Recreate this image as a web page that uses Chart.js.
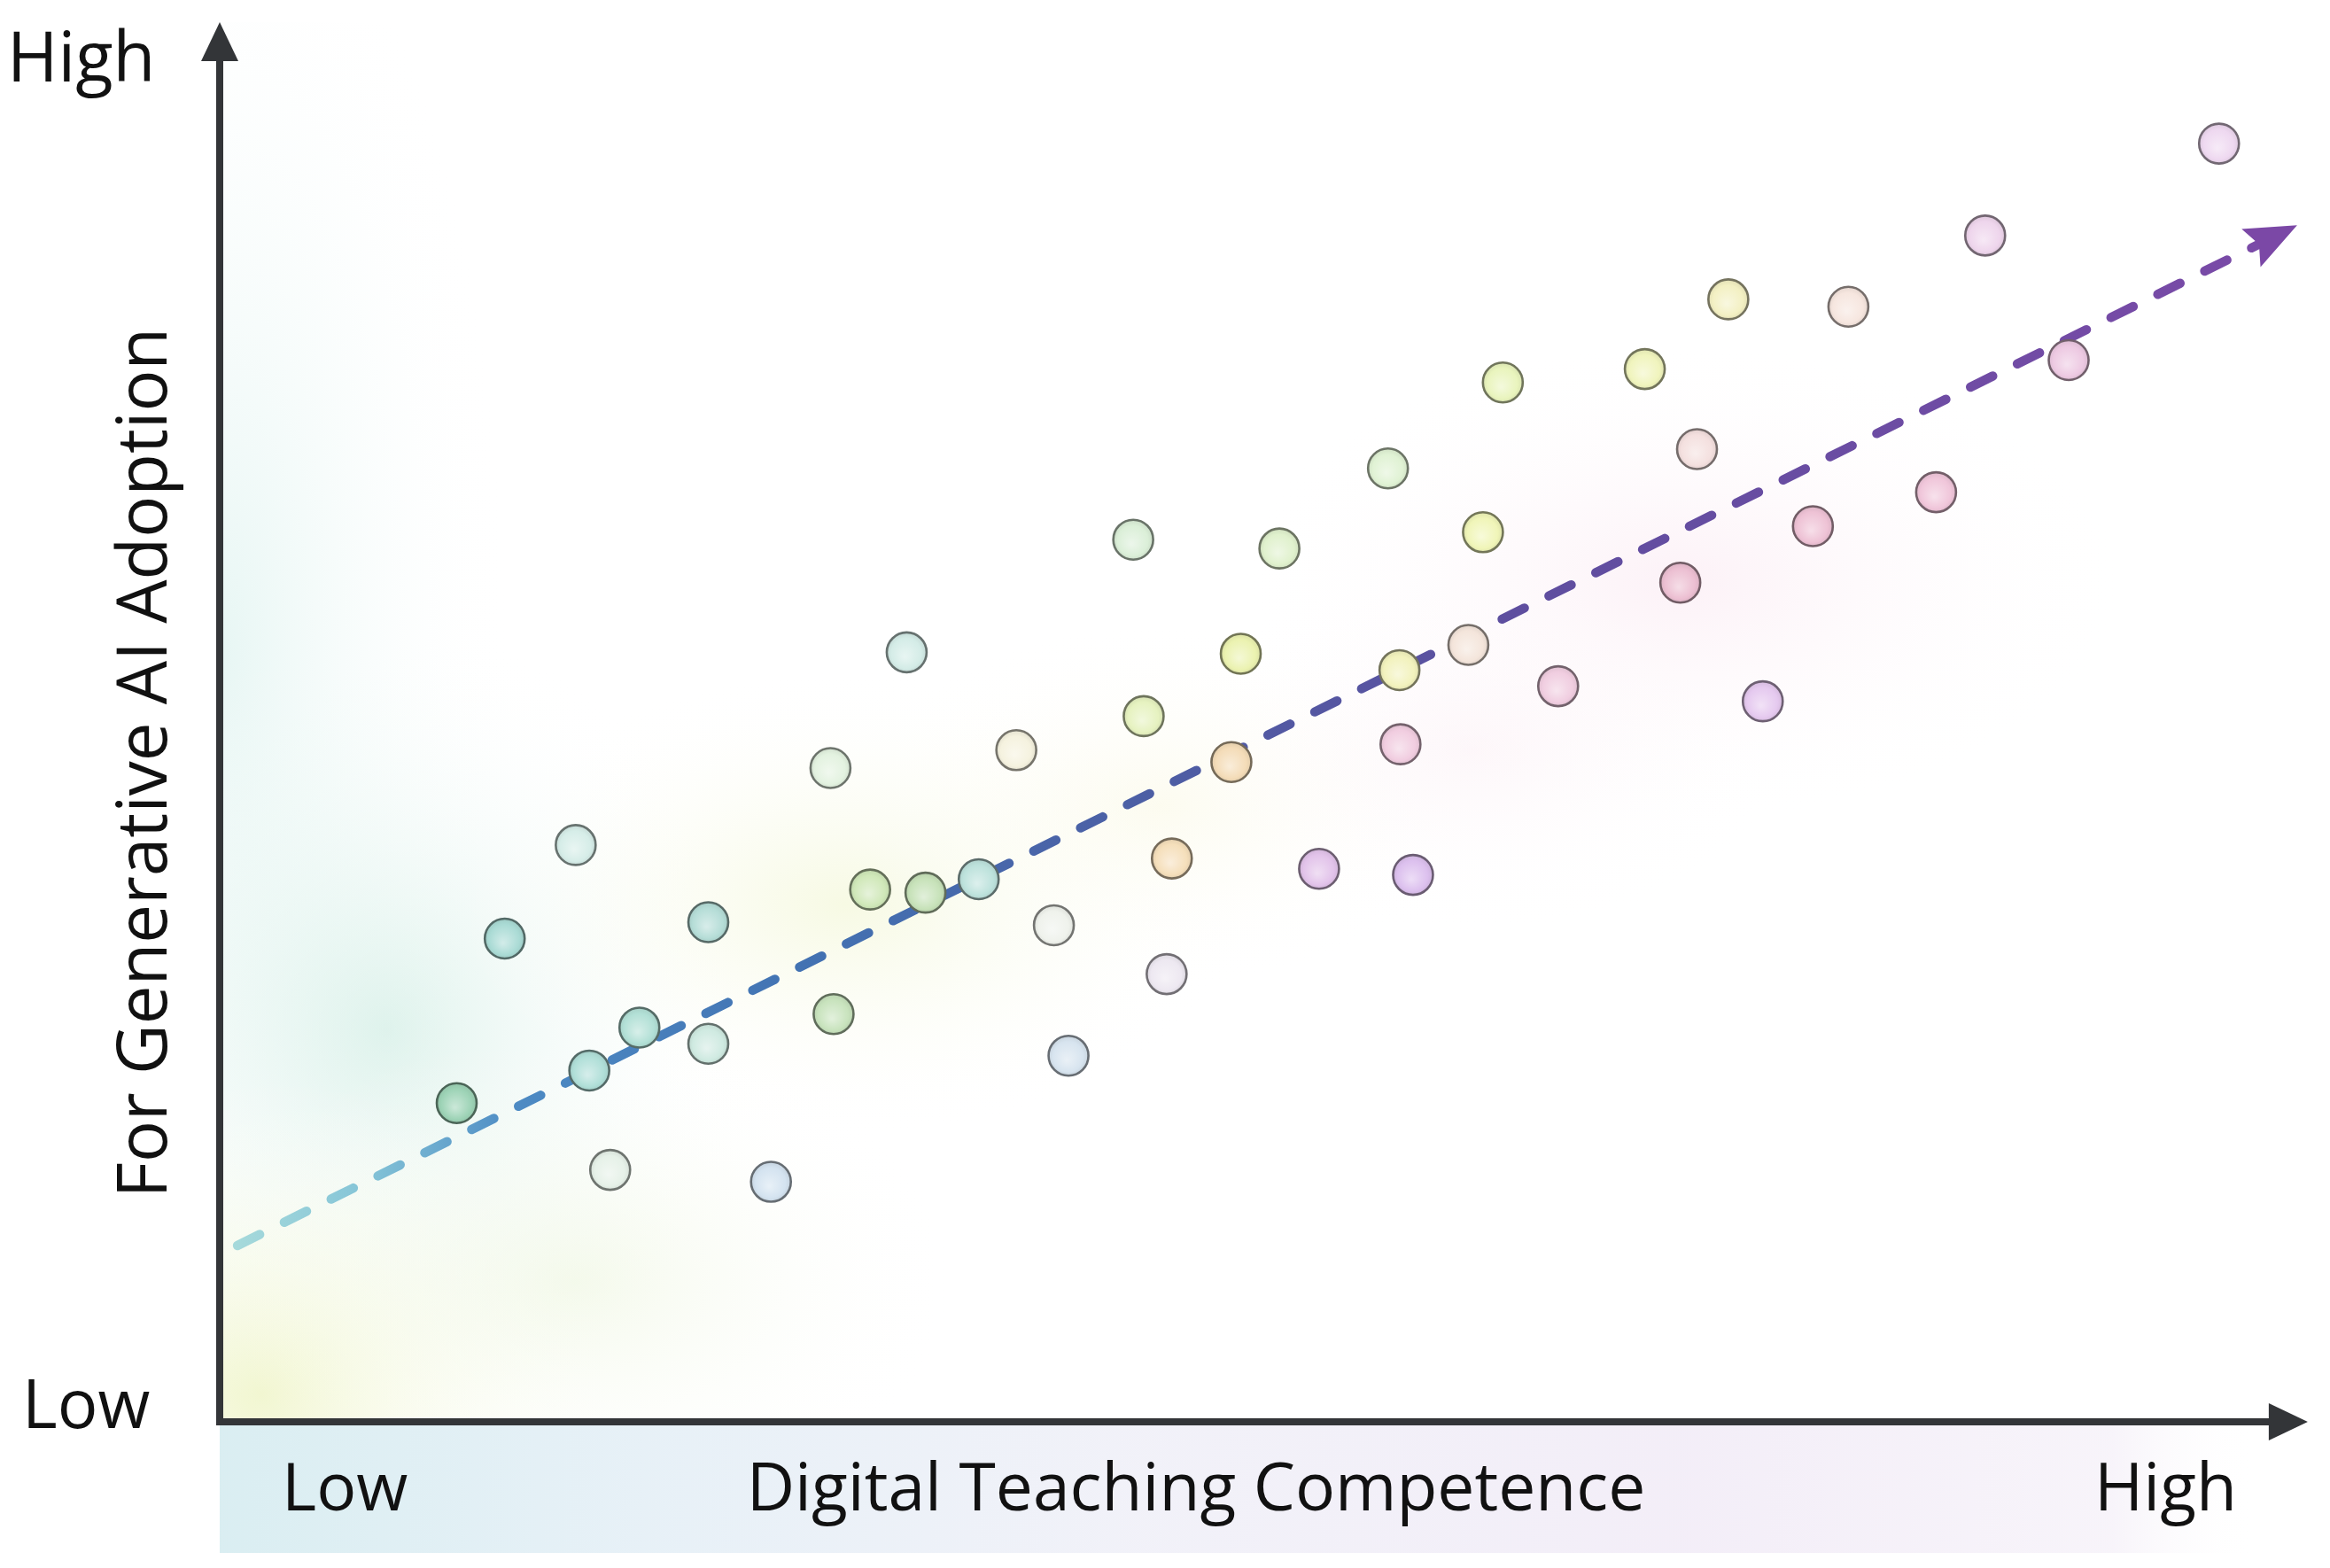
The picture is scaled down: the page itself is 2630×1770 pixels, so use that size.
<!DOCTYPE html>
<html><head><meta charset="utf-8">
<script src="https://cdn.jsdelivr.net/npm/chart.js@4/dist/chart.umd.min.js"></script>
<style>html,body{margin:0;padding:0;background:#fff;overflow:hidden}#wrap{width:2630px;height:1770px;position:relative}</style>
</head><body><div id="wrap"><canvas id="c" width="2630" height="1770"></canvas></div>
<script>
// ---- data (0-100 relative scale, no numeric ticks in the original) ----
const competence = [11.35,13.65,17.05,17.70,18.70,20.10,23.40,23.40,26.40,29.25,29.40,31.15,32.90,33.80,36.35,38.15,39.95,40.65,43.75,44.25,45.35,45.60,48.45,48.90,50.75,52.65,55.95,56.50,56.55,57.15,59.80,60.50,61.45,64.10,68.25,69.95,70.75,72.25,73.90,76.30,78.00,82.20,84.55,88.55,95.75];
const adoption   = [22.77,34.53,41.21,25.10,18.00,28.17,35.70,27.01,17.15,46.71,29.13,38.03,54.98,37.81,38.77,47.99,35.48,26.16,63.03,50.42,31.99,40.25,47.14,54.88,62.40,39.51,68.12,53.71,48.41,39.08,55.51,63.56,74.26,52.56,75.22,59.96,69.50,80.20,51.48,63.99,79.67,66.42,84.76,75.86,91.33];
const trendX = [0.85, 99.49];
const trendY = [12.60, 85.49];
const xTickLabels = ['Low', 'High'];
const yTickLabels = ['Low', 'High'];
const xTitle = 'Digital Teaching Competence';
const yTitle = 'For Generative AI Adoption';

// ---- styles ----
const pointFills = ['#9dd3b6','#aadbd5','#d6ede8','#b0dfd8','#e6f1e8','#b2e0d6','#b5ddd7','#cfeae1','#d4e3f0','#e3f2e0','#c8e3bd','#d0e8b9','#d4ece7','#c7e2b9','#bde2dc','#f5f2df','#eff2ec','#d7e4ef','#dbefd8','#e6f2c0','#ede8f1','#f5dfbb','#f4dcb8','#ebf2b0','#e0f1cd','#e2c3ea','#e0f2d4','#f2f2bd','#f1cde0','#dcc0ee','#f4e5db','#f0f5b8','#e9f4bd','#f0cde0','#f0f4bd','#ecbfd2','#f4e0df','#f3f0c3','#e5c9ef','#eec2d5','#f6e6df','#f0c6da','#eed5ec','#edc9e2','#eed8f0'];
function rgbOf(hex){const n=parseInt(hex.slice(1),16);return [(n>>16)&255,(n>>8)&255,n&255];}
function darken(hex, f){const [r,g,b]=rgbOf(hex);return `rgb(${Math.round(r*f)},${Math.round(g*f)},${Math.round(b*f)})`;}
function lighten(hex, f){const [r,g,b]=rgbOf(hex);return `rgb(${Math.round(r+(255-r)*f)},${Math.round(g+(255-g)*f)},${Math.round(b+(255-b)*f)})`;}
const pointBorders = pointFills.map(c => darken(c, 0.48));
const FONT = '"Open Sans", "Noto Sans", sans-serif';
const R_PT = 22.5;

const bgPlugin = {
  id: 'bg',
  beforeDraw(chart) {
    const c = chart.ctx, a = chart.chartArea, W = chart.width, H = chart.height;
    const L = a.left, R = a.right, T = a.top, B = a.bottom, w = R - L, h = B - T;
    c.save();
    c.fillStyle = '#ffffff'; c.fillRect(0, 0, W, H);
    const glow = (fx, fy, r, col, sy, sx) => {
      const x = L + fx * w, y = T + fy * h;
      c.save(); c.translate(x, y); c.scale(sx || 1, sy || 1);
      const g = c.createRadialGradient(0, 0, 0, 0, 0, r);
      g.addColorStop(0, col); g.addColorStop(1, 'rgba(255,255,255,0)');
      c.fillStyle = g; c.beginPath(); c.arc(0, 0, r, 0, Math.PI * 2); c.fill(); c.restore();
    };
    c.save(); c.beginPath(); c.rect(L, T, w, h); c.clip();
    glow(0.0, 0.45, 330, 'rgba(215,240,236,0.6)', 2.8, 1);
    glow(0.08, 0.72, 420, 'rgba(185,228,214,0.45)', 1.1, 1);
    glow(0.02, 0.98, 400, 'rgba(238,244,196,0.8)', 0.9, 1);
    glow(0.17, 0.90, 360, 'rgba(232,243,212,0.45)', 0.8, 1.2);
    glow(0.30, 0.63, 380, 'rgba(240,245,205,0.55)', 0.7, 1.2);
    glow(0.45, 0.56, 300, 'rgba(250,248,225,0.5)', 0.7, 1.2);
    glow(0.70, 0.40, 420, 'rgba(249,225,237,0.45)', 0.65, 1.2);
    glow(0.60, 0.52, 300, 'rgba(250,232,240,0.35)', 0.7, 1.2);
    c.restore();
    // band below x axis
    const bandTop = B + 4, bandBot = B + 148;
    const g2 = c.createLinearGradient(L, 0, L + w * 0.975, 0);
    g2.addColorStop(0, 'rgba(216,237,241,0.95)');
    g2.addColorStop(0.2, 'rgba(228,239,246,0.9)');
    g2.addColorStop(0.45, 'rgba(240,240,248,0.9)');
    g2.addColorStop(0.72, 'rgba(242,236,247,0.9)');
    g2.addColorStop(0.93, 'rgba(246,242,249,0.85)');
    g2.addColorStop(1, 'rgba(255,255,255,0)');
    c.fillStyle = g2; c.fillRect(L, bandTop, w * 0.975, bandBot - bandTop);
    c.restore();
  },
  beforeDatasetsDraw(chart) {
    const c = chart.ctx, a = chart.chartArea;
    const L = a.left, R = a.right, T = a.top, B = a.bottom;
    c.save();
    c.strokeStyle = '#333538'; c.fillStyle = '#333538'; c.lineWidth = 8; c.lineCap = 'butt';
    c.beginPath(); c.moveTo(L, B); c.lineTo(L, T + 40); c.stroke();
    c.beginPath(); c.moveTo(L - 4, B); c.lineTo(R - 40, B); c.stroke();
    c.beginPath(); c.moveTo(L, T); c.lineTo(L - 21, T + 44); c.lineTo(L + 21, T + 44); c.closePath(); c.fill();
    c.beginPath(); c.moveTo(R, B); c.lineTo(R - 44, B - 21); c.lineTo(R - 44, B + 21); c.closePath(); c.fill();
    // texts
    c.fillStyle = '#111111'; c.textBaseline = 'alphabetic';
    c.font = '400 78px ' + FONT; c.textAlign = 'left';
    c.fillText(yTickLabels[1], 8, T + 67);
    c.font = '400 76px ' + FONT;
    c.fillText(yTickLabels[0], 25, B + 7);
    c.font = '400 75px ' + FONT;
    c.fillText(xTickLabels[0], L + 70, B + 100);
    c.fillText(xTickLabels[1], L + 2116, B + 100);
    c.textAlign = 'center';
    c.fillText(xTitle, L + 1102, B + 100);
    c.save(); c.translate(188, T + 836); c.rotate(-Math.PI / 2);
    c.font = '400 78px ' + FONT; c.fillText(yTitle, 0, 0); c.restore();
    c.restore();
  },
  afterDatasetsDraw(chart) {
    const meta = chart.getDatasetMeta(1);
    const pts = meta.data; if (pts.length < 2) return;
    const p0 = pts[pts.length - 2], p1 = pts[pts.length - 1];
    const ang = Math.atan2(p1.y - p0.y, p1.x - p0.x);
    const c = chart.ctx; c.save(); c.translate(p1.x, p1.y); c.rotate(ang);
    c.fillStyle = '#7b48a6';
    c.beginPath(); c.moveTo(0, 0); c.lineTo(-58, -24); c.lineTo(-48, 0); c.lineTo(-58, 24); c.closePath(); c.fill();
    c.restore();
  }
};

function pointFill(ctx) {
  const i = ctx.dataIndex, base = pointFills[i];
  const ch = ctx.chart;
  if (ctx.type !== 'data' || !ch.scales || !ch.scales.x) return base;
  const x = ch.scales.x.getPixelForValue(competence[i]);
  const y = ch.scales.y.getPixelForValue(adoption[i]);
  if (!isFinite(x) || !isFinite(y)) return base;
  const g = ch.ctx.createRadialGradient(x - 2, y + 5, 1, x, y, R_PT);
  g.addColorStop(0, lighten(base, 0.45));
  g.addColorStop(0.75, base);
  g.addColorStop(1, darken(base, 0.93));
  return g;
}

new Chart(document.getElementById('c'), {
  type: 'scatter',
  data: {
    datasets: [
      {
        label: 'Teachers',
        data: competence.map((x, i) => ({ x: x, y: adoption[i] })),
        pointRadius: R_PT, pointHoverRadius: R_PT, borderWidth: 2.6,
        backgroundColor: pointFill, borderColor: pointBorders,
        clip: false
      },
      {
        type: 'line', label: 'Trend',
        data: trendX.map((x, i) => ({ x: x, y: trendY[i] })),
        showLine: true, pointRadius: 0, borderWidth: 10.5,
        borderDash: [28, 31], borderCapStyle: 'round',
        borderColor: (ctx) => {
          const ch = ctx.chart, a = ch.chartArea;
          if (!a) return '#5a55a0';
          const g = ch.ctx.createLinearGradient(a.left, 0, a.right, 0);
          g.addColorStop(0, 'rgba(150,212,214,0.8)');
          g.addColorStop(0.07, 'rgba(120,190,212,0.9)');
          g.addColorStop(0.14, '#4d8bc4');
          g.addColorStop(0.28, '#4272b2');
          g.addColorStop(0.45, '#4d5ea4');
          g.addColorStop(0.62, '#5e4e9f');
          g.addColorStop(1, '#7c4aa8');
          return g;
        },
        clip: false
      }
    ]
  },
  options: {
    responsive: false, animation: false, devicePixelRatio: 1,
    layout: { padding: { left: 248, right: 20, top: 22, bottom: 165 } },
    scales: {
      x: { type: 'linear', min: 0, max: 100, display: false },
      y: { type: 'linear', min: 0, max: 100, display: false }
    },
    plugins: { legend: { display: false }, tooltip: { enabled: false } }
  },
  plugins: [bgPlugin]
});
</script></body></html>
